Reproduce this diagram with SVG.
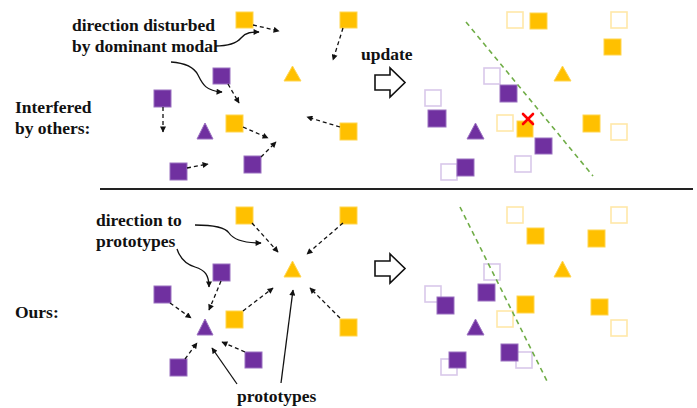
<svg xmlns="http://www.w3.org/2000/svg" width="697" height="408" viewBox="0 0 697 408">
<defs>
<style>
.t{font-family:'Liberation Serif','Times New Roman',Times,serif;font-weight:700;font-size:17.5px;fill:#111}
.y{fill:#FFC000;stroke:#FFD54F;stroke-width:1}
.p{fill:#7030A0;stroke:#9A70C0;stroke-width:1}
.hy{fill:#fff;stroke:#FFE8A8;stroke-width:1.6}
.hp{fill:#fff;stroke:#D9C8EA;stroke-width:1.6}
.d{fill:none;stroke:#111;stroke-width:1.3;stroke-dasharray:4 3;marker-end:url(#ah)}
.s{fill:none;stroke:#111;stroke-width:1.3;marker-end:url(#ah)}
.g{fill:none;stroke:#70AD47;stroke-width:1.6;stroke-dasharray:5 4}
.ha{fill:#fff;stroke:#111;stroke-width:1.6}
</style>
<marker id="ah" viewBox="0 0 10 10" refX="9" refY="5" markerWidth="7" markerHeight="6" markerUnits="userSpaceOnUse" orient="auto">
<path d="M0 0 L10 5 L0 10 Z" fill="#111"/>
</marker>
</defs>
<rect width="697" height="408" fill="#fff"/>

<g id="labels" font-family="Liberation Serif, serif" font-weight="bold">
<text class="t" x="72" y="31">direction disturbed</text>
<text class="t" x="72" y="52">by dominant modal</text>
<text class="t" x="15" y="113">Interfered</text>
<text class="t" x="15" y="134">by others:</text>
<text class="t" x="361" y="60">update</text>
<text class="t" x="96" y="226">direction to</text>
<text class="t" x="96" y="247">prototypes</text>
<text class="t" x="15" y="318">Ours:</text>
<text class="t" x="237" y="402">prototypes</text>
</g>

<line x1="100" y1="189" x2="693" y2="189" stroke="#222" stroke-width="2"/>

<g id="top-left">
<rect class="y" x="236" y="12" width="17" height="16"/>
<rect class="y" x="340" y="12" width="17" height="16"/>
<rect class="p" x="213" y="68" width="17" height="16"/>
<polygon class="y" points="292.5,66 284,81 301,81"/>
<rect class="p" x="154" y="90" width="17" height="17"/>
<rect class="y" x="226" y="115" width="17" height="17"/>
<polygon class="p" points="205,123 197,139 213,139"/>
<rect class="y" x="340" y="123" width="17" height="17"/>
<rect class="p" x="244" y="156" width="17" height="17"/>
<rect class="p" x="170" y="163" width="17" height="17"/>
</g>

<g id="top-right">
<rect class="hy" x="507" y="12" width="16" height="16"/>
<rect class="y" x="530" y="13" width="17" height="16"/>
<rect class="hy" x="611" y="12" width="16" height="16"/>
<rect class="y" x="604" y="39" width="17" height="16"/>
<polygon class="y" points="562.5,66 554,81 571,81"/>
<rect class="hp" x="484" y="68" width="16" height="16"/>
<rect class="p" x="500" y="85" width="17" height="17"/>
<rect class="hp" x="425" y="90" width="16" height="16"/>
<rect class="p" x="428" y="110" width="18" height="17"/>
<polygon class="p" points="475.5,123 467,139 484,139"/>
<rect class="hy" x="497" y="115" width="16" height="16"/>
<rect class="y" x="517" y="121" width="16" height="16"/>
<rect class="p" x="535" y="138" width="17" height="16"/>
<rect class="y" x="583" y="115" width="17" height="17"/>
<rect class="hy" x="611" y="124" width="16" height="16"/>
<rect class="hp" x="515" y="156" width="16" height="16"/>
<rect class="hp" x="441" y="164" width="16" height="16"/>
<rect class="p" x="457" y="159" width="17" height="17"/>
<g stroke="#FF0000" stroke-width="2.6" stroke-linecap="round">
<line x1="523" y1="114" x2="533" y2="124"/>
<line x1="533" y1="114" x2="523" y2="124"/>
</g>
</g>

<g id="bottom-left">
<rect class="y" x="236" y="207" width="17" height="17"/>
<rect class="y" x="340" y="207" width="17" height="17"/>
<polygon class="y" points="292.5,261 284,277 301,277"/>
<rect class="p" x="213" y="264" width="17" height="17"/>
<rect class="p" x="154" y="286" width="17" height="17"/>
<rect class="y" x="226" y="311" width="17" height="17"/>
<polygon class="p" points="205,319 197,335 213,335"/>
<rect class="y" x="340" y="319" width="17" height="17"/>
<rect class="p" x="245" y="352" width="17" height="16"/>
<rect class="p" x="170" y="359" width="17" height="17"/>
</g>

<g id="bottom-right">
<rect class="hy" x="507" y="207" width="16" height="16"/>
<rect class="y" x="527" y="228" width="17" height="16"/>
<rect class="hy" x="611" y="207" width="16" height="16"/>
<rect class="y" x="588" y="230" width="17" height="17"/>
<polygon class="y" points="562.5,261 554,277 571,277"/>
<rect class="hp" x="484" y="264" width="16" height="16"/>
<rect class="p" x="478" y="284" width="17" height="17"/>
<rect class="hp" x="425" y="286" width="16" height="16"/>
<rect class="p" x="437" y="297" width="17" height="17"/>
<rect class="y" x="517" y="296" width="17" height="17"/>
<rect class="y" x="591" y="299" width="17" height="16"/>
<rect class="hy" x="497" y="311" width="16" height="16"/>
<polygon class="p" points="475.5,319 467,335 484,335"/>
<rect class="hy" x="611" y="320" width="16" height="16"/>
<rect class="hp" x="516" y="352" width="16" height="16"/>
<rect class="p" x="501" y="344" width="17" height="17"/>
<rect class="hp" x="441" y="359" width="16" height="16"/>
<rect class="p" x="449" y="352" width="17" height="16"/>
</g>

<g id="connectors">
<line class="d" x1="253" y1="25" x2="279" y2="31"/>
<line class="d" x1="343" y1="28" x2="333" y2="60"/>
<line class="d" x1="228" y1="84" x2="239" y2="103"/>
<line class="d" x1="163" y1="107" x2="163" y2="132"/>
<line class="d" x1="243" y1="127" x2="268" y2="138"/>
<line class="d" x1="340" y1="127" x2="307" y2="117"/>
<line class="d" x1="261" y1="157" x2="276" y2="142"/>
<line class="d" x1="187" y1="168" x2="208" y2="164"/>
<path class="s" d="M215 46 C228 46 236 44 241 38 S252 32 259 32"/>
<path class="s" d="M171 62 C186 63 194 67 198 75 S205 91 222 92"/>

<line class="d" x1="252" y1="223" x2="278" y2="252"/>
<line class="d" x1="343" y1="223" x2="307" y2="254"/>
<line class="d" x1="243" y1="311" x2="273" y2="288"/>
<line class="d" x1="340" y1="318" x2="310" y2="288"/>
<line class="d" x1="221" y1="281" x2="209" y2="310"/>
<line class="d" x1="170" y1="303" x2="191" y2="318"/>
<line class="d" x1="185" y1="359" x2="197" y2="343"/>
<line class="d" x1="245" y1="352" x2="222" y2="342"/>
<path class="s" d="M195 225 C214 225 225 227 229 233 S244 243 261 243"/>
<path class="s" d="M177 249 C180 258 185 264 195 267 S209 275 209 287"/>
<line class="s" x1="237" y1="384" x2="212" y2="348"/>
<line class="s" x1="281" y1="383" x2="293" y2="290"/>

<line class="g" x1="466" y1="22" x2="593" y2="176"/>
<line class="g" x1="460" y1="207" x2="548" y2="383"/>
<path class="ha" d="M375 75 L390 75 L390 68 L405 82.5 L390 97 L390 90 L375 90 Z"/>
<path class="ha" d="M375 261 L390 261 L390 254 L405 268.5 L390 283 L390 276 L375 276 Z"/>
</g>
</svg>
